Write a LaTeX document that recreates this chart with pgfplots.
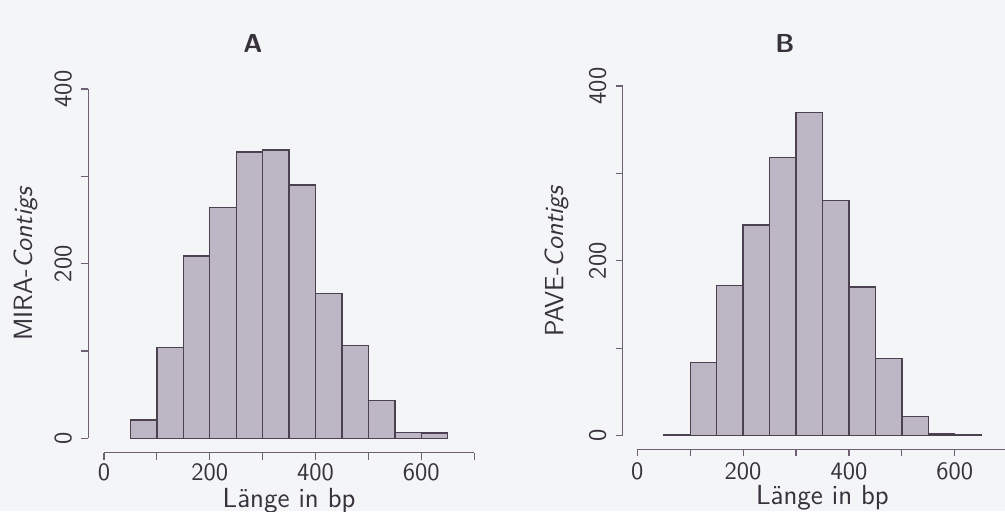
\documentclass[border=0pt]{standalone}
\usepackage{fontspec}
\usepackage{pgfplots}
\pgfplotsset{compat=1.18}
\renewcommand{\familydefault}{\sfdefault}
\definecolor{bg}{RGB}{244,245,247}
\definecolor{barfill}{RGB}{189,182,197}
\definecolor{baredge}{RGB}{75,65,80}
\definecolor{axcol}{RGB}{110,95,115}
\definecolor{txt}{RGB}{55,50,60}
\pgfplotsset{
  histo/.style={
    scale only axis,
    xmin=0,xmax=700,ymin=0,ymax=400,
    axis x line=bottom, axis y line=left,
    axis line style={-, draw=axcol, line width=0.6pt},
    tick style={draw=axcol, line width=0.6pt},
    tick align=outside,
    major tick length=3.5pt,
    xtick={0,100,...,700},
    xticklabels={0,,200,,400,,600,},
    ytick={0,100,...,400},
    yticklabels={0,,200,,400},
    /pgf/number format/assume math mode=true,
    ticklabel style={font=\fontsize{12.5}{15}\selectfont, text=txt},
    xticklabel style={inner sep=0.5pt, yshift=-2.6pt},
    yticklabel style={rotate=90, anchor=south, inner sep=0pt},
    yticklabel shift=4.5pt,
    label style={text=txt, inner sep=0pt},
    xlabel={L\"ange in bp},
    xlabel style={font=\fontsize{13.8}{16}\selectfont, at={(axis description cs:0.5,-0.197)}, anchor=base},
    ylabel style={font=\fontsize{13.2}{16}\selectfont},
    clip=false,
  }
}
\begin{document}
\begin{tikzpicture}
\fill[bg] (0,0) rectangle (502.5pt,255.5pt);
\path[use as bounding box] (0,0) rectangle (502.5pt,255.5pt);
\node[font=\bfseries\fontsize{13}{15}\selectfont, text=txt, anchor=base] at (126.5pt,229.5pt) {A};
\node[font=\bfseries\fontsize{13}{15}\selectfont, text=txt, anchor=base] at (392.5pt,229.5pt) {B};
\begin{axis}[histo,
  at={(52pt,36.35pt)}, anchor=south west,
  width=185.1pt, height=174.65pt,
  axis x line shift=7.2pt, axis y line shift=7.85pt,
  xticklabel style={yshift=1.2pt},
  xlabel style={at={(axis description cs:0.5,-0.198)}},
  ylabel={MIRA-\textit{Contigs}},
  ylabel style={at={(axis description cs:-0.194,0.5)}, anchor=base},
]
\addplot[ybar interval, fill=barfill, draw=baredge, line width=0.7pt] coordinates {
(50,21) (100,104) (150,209) (200,264) (250,328) (300,330) (350,290) (400,166) (450,106) (500,43) (550,7) (600,6) (650,6)};
\end{axis}
\begin{axis}[histo,
  at={(318.65pt,37.65pt)}, anchor=south west,
  width=185.15pt, height=174.85pt,
  axis x line shift=6.8pt, axis y line shift=7.3pt,
  ylabel={PAVE-\textit{Contigs}},
  ylabel style={at={(axis description cs:-0.2,0.5)}, anchor=base},
]
\addplot[ybar interval, fill=barfill, draw=baredge, line width=0.7pt] coordinates {
(50,1) (100,84) (150,172) (200,241) (250,318) (300,370) (350,269) (400,170) (450,88) (500,22) (550,2) (600,1.5) (650,1.5)};
\end{axis}
\end{tikzpicture}
\end{document}
